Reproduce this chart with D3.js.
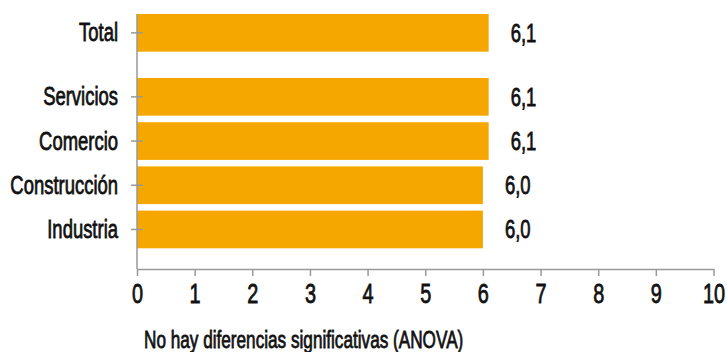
<!DOCTYPE html>
<html>
<head>
<meta charset="utf-8">
<script src="https://cdn.jsdelivr.net/npm/d3@7"></script>
<style>
  html, body { margin: 0; padding: 0; background: #fff; }
  svg text { font-family: "Liberation Sans", Arial, sans-serif; fill: #111; stroke: #111; stroke-width: 0.8px; }
</style>
</head>
<body>
<svg id="chart" width="727" height="352"></svg>
<script>
// Sector averages (scale 0–10)
const categories = ["Total", "Servicios", "Comercio", "Construcción", "Industria"];
const values = [6.1, 6.1, 6.1, 6.0, 6.0];
const valueLabels = ["6,1", "6,1", "6,1", "6,0", "6,0"];
const xTicks = [0, 1, 2, 3, 4, 5, 6, 7, 8, 9, 10];
const note = "No hay diferencias significativas (ANOVA)";

const svg = d3.select("#chart");
const plotLeft = 137, plotRight = 713.5, plotTop = 14, axisY = 269;
// Condensed look: glyphs squeezed horizontally
const narrow = 0.71;
const place = (px, py) => `translate(${px},${py}) scale(${narrow},1)`;

const x = d3.scaleLinear().domain([0, 10]).range([plotLeft, plotRight]);

// Rows: "Total" sits apart from the sectors, separated by an extra gap
const step = 44.2, barH = 37.7, gap = 19.8;
const rowTop = i => plotTop + i * step + (i > 0 ? gap : 0);
const y = d3.scaleOrdinal().domain(categories).range(categories.map((c, i) => rowTop(i)));

const data = categories.map((c, i) => ({ cat: c, v: values[i], label: valueLabels[i] }));

// Bars
svg.append("g").selectAll("rect").data(data).join("rect")
  .attr("x", x(0))
  .attr("y", d => y(d.cat))
  .attr("width", d => x(d.v) - x(0))
  .attr("height", barH)
  .attr("fill", "#F5A700");

// Value labels
svg.append("g").selectAll("text").data(data).join("text")
  .attr("transform", d => place(x(d.v) + 22, y(d.cat) + barH / 2 + 8.8))
  .attr("font-size", 26)
  .text(d => d.label);

// Y axis
const yAxis = svg.append("g");
yAxis.append("line")
  .attr("x1", plotLeft).attr("x2", plotLeft)
  .attr("y1", plotTop).attr("y2", axisY)
  .attr("stroke", "#999").attr("stroke-width", 1.5);
yAxis.selectAll("line.tick").data(data).join("line")
  .attr("class", "tick")
  .attr("x1", plotLeft - 6).attr("x2", plotLeft + 6)
  .attr("y1", d => y(d.cat) + barH / 2).attr("y2", d => y(d.cat) + barH / 2)
  .attr("stroke", "#999").attr("stroke-width", 1.5);
yAxis.selectAll("text").data(data).join("text")
  .attr("transform", d => place(plotLeft - 19, y(d.cat) + barH / 2 + 8.5))
  .attr("text-anchor", "end")
  .attr("font-size", 26)
  .text(d => d.cat);

// X axis
const xAxis = svg.append("g").attr("transform", `translate(0,${axisY})`)
  .call(d3.axisBottom(x).tickValues(xTicks).tickSize(7).tickSizeOuter(0).tickFormat(d3.format("d")));
xAxis.attr("font-family", null).attr("font-size", null);
xAxis.select(".domain").attr("stroke", "#999").attr("stroke-width", 1.5);
xAxis.selectAll(".tick line").attr("stroke", "#999").attr("stroke-width", 1.5);
xAxis.selectAll(".tick text")
  .attr("font-size", 28)
  .attr("fill", "#111")
  .attr("y", null)
  .attr("dy", null)
  .attr("transform", place(0, 34));

// Footnote
svg.append("text")
  .attr("transform", place(144, 348))
  .attr("font-size", 24.2)
  .text(note);
</script>
</body>
</html>
